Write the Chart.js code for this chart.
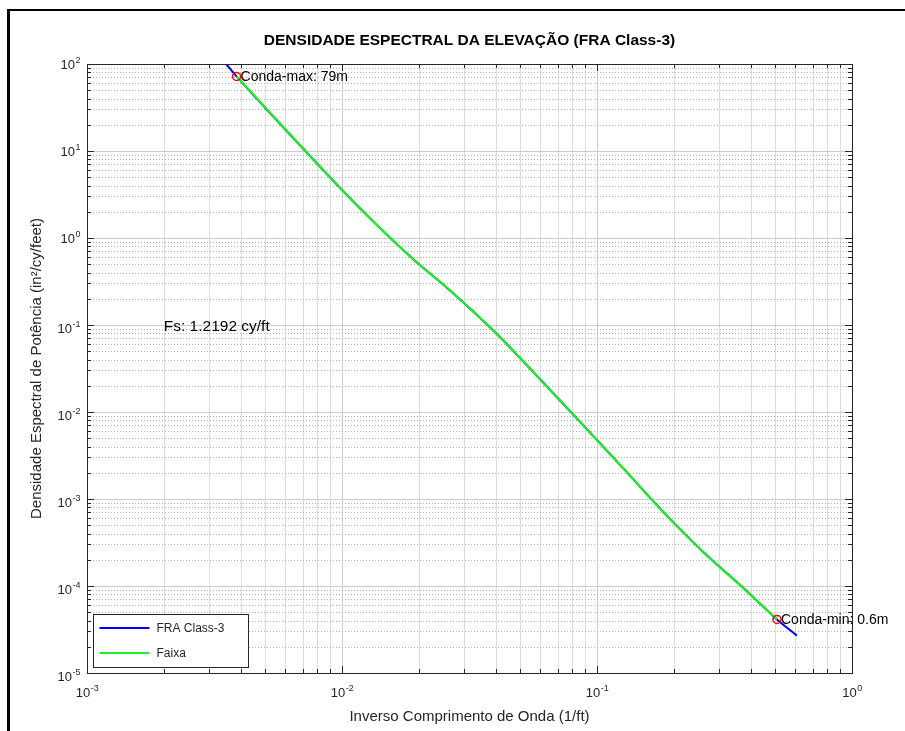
<!DOCTYPE html>
<html>
<head>
<meta charset="utf-8">
<title>Densidade espectral FRA Class-3</title>
<script src="https://cdn.jsdelivr.net/npm/chart.js@4.4.1/dist/chart.umd.min.js"></script>
<style>
  html, body { margin: 0; padding: 0; background: #fff; }
  #wrap { position: relative; width: 905px; height: 731px; overflow: hidden; }
  #frame { position: absolute; left: 7px; top: 9px; right: -10px; bottom: -10px;
           border-left: 3px solid #000; border-top: 2px solid #000; }
  canvas { position: absolute; left: 0; top: 0; }
</style>
</head>
<body>
<div id="wrap">
  <div id="frame"></div>
  <canvas id="psdChart" width="905" height="731"></canvas>
</div>
<script>
// curva FRA Class-3 (frequência espacial em 1/ft, PSD em in^2/cy/ft)
const freqFRA = [0.00351, 0.00386, 0.00714, 0.00885, 0.0122, 0.0187, 0.0268, 0.0403,
                 0.0546, 0.0854, 0.1286, 0.184, 0.263, 0.376, 0.508, 0.608];
const psdFRA = [100, 72, 10.2, 5.2, 1.97, 0.597, 0.243, 0.0798,
                0.0316, 0.00784, 0.00215, 0.000685, 0.000241, 0.000094, 0.0000413, 0.0000269];

// faixa entre os comprimentos de onda limites
const freqFaixa = [0.00386, 0.00714, 0.00885, 0.0122, 0.0187, 0.0268, 0.0403,
                   0.0546, 0.0854, 0.1286, 0.184, 0.263, 0.376, 0.508];
const psdFaixa = [72, 10.2, 5.2, 1.97, 0.597, 0.243, 0.0798,
                  0.0316, 0.00784, 0.00215, 0.000685, 0.000241, 0.000094, 0.0000413];

// limites da faixa (comprimento de onda max/min)
const condaFreq = [0.00386, 0.508];
const condaPsd = [72, 0.0000413];
const condaLabels = ['Conda-max: 79m', 'Conda-min: 0.6m'];

const fsText = 'Fs: 1.2192 cy/ft';
const fsPos = [0.002, 0.1];

// expoentes dos rótulos 10^n
const xTickExp = [-3, -2, -1, 0];
const yTickExp = [-5, -4, -3, -2, -1, 0, 1, 2];

const FONT = '"Liberation Sans", Arial, Helvetica, sans-serif';
const INK = '#262626';

function pts(xs, ys) { return xs.map((x, i) => ({ x: x, y: ys[i] })); }

// linhas de grade e marcas de uma escala log (1..9 por década)
function logSteps(min, max) {
  const out = [];
  const lo = Math.round(Math.log10(min)), hi = Math.round(Math.log10(max));
  for (let e = lo; e <= hi; e++) {
    for (let m = 1; m <= 9; m++) {
      if (e === hi && m > 1) break;
      out.push({ value: m * Math.pow(10, e), major: m === 1 });
    }
  }
  return out;
}

function drawPower(ctx, e, x, y, align) {
  ctx.font = '13px ' + FONT;
  const w1 = ctx.measureText('10').width;
  ctx.font = '9px ' + FONT;
  const w2 = ctx.measureText(String(e)).width;
  let left = align === 'right' ? x - w1 - w2 : x - (w1 + w2) / 2;
  ctx.textAlign = 'left';
  ctx.textBaseline = 'alphabetic';
  ctx.font = '13px ' + FONT;
  ctx.fillText('10', left, y);
  ctx.font = '9px ' + FONT;
  ctx.fillText(String(e), left + w1 + 0.5, y - 6);
}

const octaveAxes = {
  id: 'octaveAxes',
  beforeDatasetsDraw(chart) {
    const { ctx, chartArea: a, scales: { x, y } } = chart;
    ctx.save();
    ctx.lineWidth = 1;
    // verticais
    logSteps(x.min, x.max).forEach(t => {
      const px = Math.round(x.getPixelForValue(t.value)) + 0.5;
      ctx.strokeStyle = t.major ? '#cdcdcd' : '#dcdcdc';
      ctx.setLineDash([]);
      ctx.beginPath(); ctx.moveTo(px, a.top); ctx.lineTo(px, a.bottom); ctx.stroke();
    });
    // horizontais
    logSteps(y.min, y.max).forEach(t => {
      const py = Math.round(y.getPixelForValue(t.value)) + 0.5;
      ctx.strokeStyle = t.major ? '#cdcdcd' : '#b0b0b0';
      ctx.setLineDash(t.major ? [] : [1, 2]);
      ctx.beginPath(); ctx.moveTo(a.left, py); ctx.lineTo(a.right, py); ctx.stroke();
    });
    ctx.restore();
  },
  afterDatasetsDraw(chart) {
    const { ctx, chartArea: a, scales: { x, y } } = chart;
    ctx.save();
    ctx.strokeStyle = INK;
    ctx.lineWidth = 1;
    ctx.setLineDash([]);

    // marcas internas nos quatro lados
    logSteps(x.min, x.max).forEach(t => {
      const px = Math.round(x.getPixelForValue(t.value)) + 0.5;
      const len = t.major ? 7 : 4;
      ctx.beginPath();
      ctx.moveTo(px, a.bottom); ctx.lineTo(px, a.bottom - len);
      ctx.moveTo(px, a.top); ctx.lineTo(px, a.top + len);
      ctx.stroke();
    });
    logSteps(y.min, y.max).forEach(t => {
      const py = Math.round(y.getPixelForValue(t.value)) + 0.5;
      const len = t.major ? 7 : 4;
      ctx.beginPath();
      ctx.moveTo(a.left, py); ctx.lineTo(a.left + len, py);
      ctx.moveTo(a.right, py); ctx.lineTo(a.right - len, py);
      ctx.stroke();
    });
    ctx.strokeRect(Math.round(a.left) + 0.5, Math.round(a.top) + 0.5,
                   Math.round(a.right - a.left), Math.round(a.bottom - a.top));

    // rótulos dos eixos
    ctx.fillStyle = INK;
    xTickExp.forEach(e => drawPower(ctx, e, x.getPixelForValue(Math.pow(10, e)), a.bottom + 24, 'center'));
    yTickExp.forEach(e => {
      const py = y.getPixelForValue(Math.pow(10, e));
      drawPower(ctx, e, a.left - 7, py + (e < 0 ? 8 : 5), 'right');
    });

    // títulos
    const cx = (a.left + a.right) / 2;
    ctx.textAlign = 'center';
    ctx.textBaseline = 'middle';
    ctx.fillStyle = '#000';
    ctx.font = 'bold 15.5px ' + FONT;
    ctx.fillText('DENSIDADE ESPECTRAL DA ELEVAÇÃO (FRA Class-3)', cx, 41);
    ctx.fillStyle = INK;
    ctx.font = '15px ' + FONT;
    ctx.fillText('Inverso Comprimento de Onda (1/ft)', cx, a.bottom + 44);
    ctx.save();
    ctx.translate(37, (a.top + a.bottom) / 2);
    ctx.rotate(-Math.PI / 2);
    ctx.fillText('Densidade Espectral de Potência (in²/cy/feet)', 0, 0);
    ctx.restore();

    // anotações
    ctx.textAlign = 'left';
    ctx.fillStyle = '#000';
    ctx.font = '15.5px ' + FONT;
    ctx.fillText(fsText, x.getPixelForValue(fsPos[0]), y.getPixelForValue(fsPos[1]) + 2);
    ctx.font = '14px ' + FONT;
    condaFreq.forEach((f, i) => {
      ctx.fillText(condaLabels[i], x.getPixelForValue(f) + 4, y.getPixelForValue(condaPsd[i]) + 1);
    });

    // legenda
    const lx = a.left + 6.5, ly = a.bottom - 58.5, lw = 155, lh = 53;
    ctx.fillStyle = '#fff';
    ctx.fillRect(lx, ly, lw, lh);
    ctx.strokeStyle = INK;
    ctx.lineWidth = 1;
    ctx.strokeRect(lx, ly, lw, lh);
    const entries = chart.data.datasets.filter(d => d.showLine).reverse();
    entries.forEach((d, i) => {
      const yy = ly + 13.5 + i * 25;
      ctx.strokeStyle = d.borderColor;
      ctx.lineWidth = 2;
      ctx.beginPath(); ctx.moveTo(lx + 6, yy); ctx.lineTo(lx + 56, yy); ctx.stroke();
      ctx.fillStyle = INK;
      ctx.font = '12px ' + FONT;
      ctx.textBaseline = 'middle';
      ctx.fillText(d.label, lx + 63, yy + 1);
    });
    ctx.restore();
  }
};

const ctx = document.getElementById('psdChart').getContext('2d');
const psdChart = new Chart(ctx, {
  type: 'scatter',
  data: {
    datasets: [
      {
        label: 'Conda',
        data: pts(condaFreq, condaPsd),
        showLine: false,
        pointStyle: 'circle',
        pointRadius: 4,
        pointBorderWidth: 1.5,
        pointBorderColor: '#ff0000',
        pointBackgroundColor: 'rgba(0,0,0,0)',
        order: 0
      },
      {
        label: 'Faixa',
        data: pts(freqFaixa, psdFaixa),
        showLine: true,
        borderColor: '#1ff01f',
        borderWidth: 2.2,
        pointRadius: 0,
        cubicInterpolationMode: 'monotone',
        order: 1
      },
      {
        label: 'FRA Class-3',
        data: pts(freqFRA, psdFRA),
        showLine: true,
        borderColor: '#0000ff',
        borderWidth: 2,
        pointRadius: 0,
        cubicInterpolationMode: 'monotone',
        order: 2
      }
    ]
  },
  options: {
    responsive: false,
    animation: false,
    events: [],
    layout: { padding: { left: 87, top: 64, right: 53, bottom: 58 } },
    scales: {
      x: { type: 'logarithmic', min: 0.001, max: 1, display: false },
      y: { type: 'logarithmic', min: 0.00001, max: 100, display: false }
    },
    plugins: {
      legend: { display: false },
      tooltip: { enabled: false },
      title: { display: false }
    }
  },
  plugins: [octaveAxes]
});
</script>
</body>
</html>
